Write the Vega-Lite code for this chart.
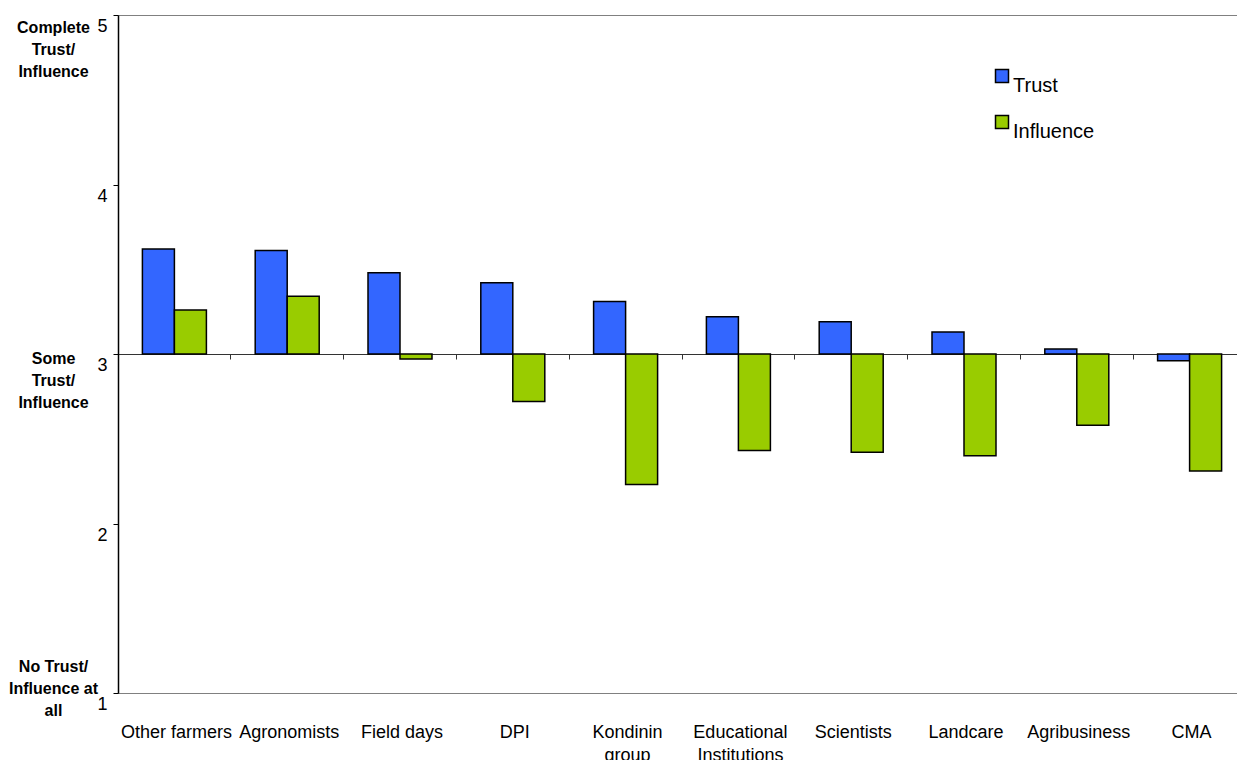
{
  "$schema": "https://vega.github.io/schema/vega-lite/v6.json",
  "width": 1128,
  "height": 678,
  "autosize": {"type": "none"},
  "padding": {"left": 118, "top": 15, "right": 0, "bottom": 67},
  "background": "white",
  "config": {
    "font": "Liberation Sans",
    "view": {"stroke": "#808080", "strokeWidth": 1}
  },
  "data": {
    "values": [
      {"source": "Other farmers", "measure": "Trust", "score": 3.62},
      {"source": "Other farmers", "measure": "Influence", "score": 3.26},
      {"source": "Agronomists", "measure": "Trust", "score": 3.61},
      {"source": "Agronomists", "measure": "Influence", "score": 3.34},
      {"source": "Field days", "measure": "Trust", "score": 3.48},
      {"source": "Field days", "measure": "Influence", "score": 2.97},
      {"source": "DPI", "measure": "Trust", "score": 3.42},
      {"source": "DPI", "measure": "Influence", "score": 2.72},
      {"source": "Kondinin group", "measure": "Trust", "score": 3.31},
      {"source": "Kondinin group", "measure": "Influence", "score": 2.23},
      {"source": "Educational Institutions", "measure": "Trust", "score": 3.22},
      {"source": "Educational Institutions", "measure": "Influence", "score": 2.43},
      {"source": "Scientists", "measure": "Trust", "score": 3.19},
      {"source": "Scientists", "measure": "Influence", "score": 2.42},
      {"source": "Landcare", "measure": "Trust", "score": 3.13},
      {"source": "Landcare", "measure": "Influence", "score": 2.40},
      {"source": "Agribusiness", "measure": "Trust", "score": 3.03},
      {"source": "Agribusiness", "measure": "Influence", "score": 2.58},
      {"source": "CMA", "measure": "Trust", "score": 2.96},
      {"source": "CMA", "measure": "Influence", "score": 2.31}
    ]
  },
  "resolve": {
    "scale": {"x": "shared", "y": "shared"},
    "axis": {"x": "independent", "y": "independent"}
  },
  "layer": [
    {
      "mark": {"type": "bar", "stroke": "#000000", "strokeWidth": 1.5},
      "encoding": {
        "x": {
          "field": "source",
          "type": "nominal",
          "sort": null,
          "scale": {"paddingInner": 0, "paddingOuter": 0},
          "axis": {
            "orient": "bottom",
            "title": null,
            "ticks": false,
            "tickSize": 0,
            "domainColor": "#808080",
            "domainWidth": 1,
            "labelAngle": 0,
            "labelFontSize": 18,
            "labelColor": "#000000",
            "labelPadding": 30,
            "labelBaseline": "top",
            "labelLimit": 0,
            "labelOverlap": false,
            "labelBound": false,
            "labelLineHeight": 23,
            "labelOffset": 2,
            "labelExpr": "datum.value == 'Kondinin group' ? ['Kondinin', 'group'] : datum.value == 'Educational Institutions' ? ['Educational', 'Institutions'] : datum.value"
          }
        },
        "xOffset": {
          "field": "measure",
          "type": "nominal",
          "sort": ["Trust", "Influence"],
          "scale": {"domain": ["Trust", "Influence"], "paddingInner": 0, "paddingOuter": 0.7625}
        },
        "y": {
          "field": "score",
          "type": "quantitative",
          "scale": {"domain": [1, 5], "nice": false, "zero": false},
          "axis": {
            "orient": "left",
            "title": null,
            "values": [1, 2, 3, 4, 5],
            "grid": false,
            "domainColor": "#000000",
            "domainWidth": 1.5,
            "tickColor": "#000000",
            "tickSize": 5,
            "tickWidth": 1,
            "labelFontSize": 18,
            "labelColor": "#000000",
            "labelPadding": 6,
            "labelBaseline": "middle",
            "labelOffset": 11.5
          }
        },
        "y2": {"datum": 3},
        "color": {
          "field": "measure",
          "type": "nominal",
          "scale": {"domain": ["Trust", "Influence"], "range": ["#3366FF", "#99CC00"]},
          "legend": {
            "title": null,
            "orient": "none",
            "legendX": 874,
            "legendY": 51,
            "padding": 0,
            "symbolType": "square",
            "symbolSize": 169,
            "symbolStrokeColor": "#000000",
            "symbolStrokeWidth": 1.5,
            "labelFontSize": 20,
            "labelColor": "#000000",
            "labelBaseline": "top",
            "labelOffset": 1,
            "rowPadding": 16
          }
        }
      }
    },
    {
      "mark": {"type": "point", "opacity": 0},
      "encoding": {
        "x": {
          "field": "source",
          "type": "nominal",
          "sort": null,
          "axis": {
            "orient": "bottom",
            "title": null,
            "offset": -339,
            "labels": false,
            "bandPosition": 0,
            "domainColor": "#333333",
            "domainWidth": 1,
            "tickColor": "#333333",
            "tickSize": 5,
            "tickWidth": 1
          }
        },
        "y": {
          "field": "score",
          "type": "quantitative",
          "axis": {
            "orient": "left",
            "title": null,
            "values": [1, 3, 5],
            "grid": false,
            "domain": false,
            "ticks": false,
            "tickSize": 0,
            "labelPadding": 65,
            "labelAlign": "center",
            "labelBaseline": "top",
            "labelFontSize": 16,
            "labelFontWeight": "bold",
            "labelColor": "#000000",
            "labelLineHeight": 22,
            "labelOffset": {
              "condition": [
                {"test": "datum.value == 5", "value": 4.5},
                {"test": "datum.value == 3", "value": -4}
              ],
              "value": -35
            },
            "labelExpr": "datum.value == 5 ? ['Complete', 'Trust/', 'Influence'] : datum.value == 3 ? ['Some', 'Trust/', 'Influence'] : ['No Trust/', 'Influence at', 'all']"
          }
        }
      }
    }
  ]
}
